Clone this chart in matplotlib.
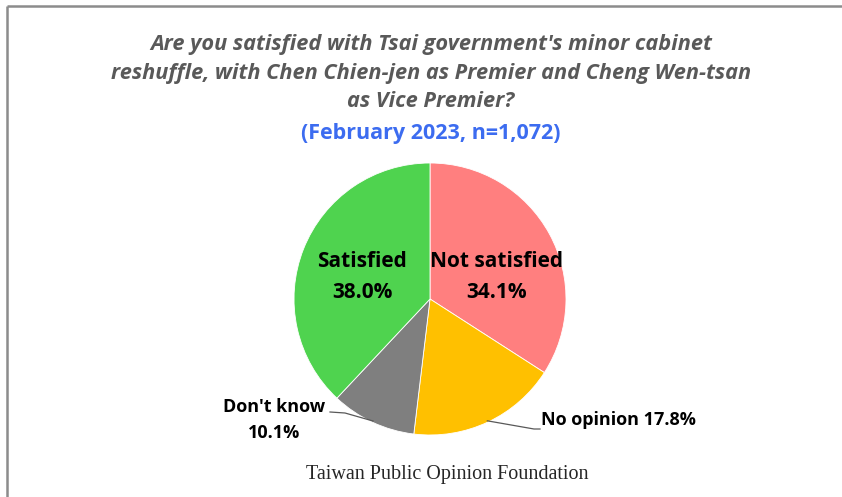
import numpy as np
import matplotlib
matplotlib.use("Agg")
import matplotlib.pyplot as plt

# Survey answers, clockwise from 12 o'clock
labels = ["Not satisfied", "No opinion", "Don't know", "Satisfied"]
shares = [34.1, 17.8, 10.1, 38.0]
colors = ["#FF7F7F", "#FFC000", "#7F7F7F", "#4FD34F"]

title = ("Are you satisfied with Tsai government's minor cabinet\n"
         "reshuffle, with Chen Chien-jen as Premier and Cheng Wen-tsan\n"
         "as Vice Premier?")
subtitle = "(February 2023, n=1,072)"
source = "Taiwan Public Opinion Foundation"

W, H = 842, 497
SANS = ["Open Sans", "DejaVu Sans"]

fig = plt.figure(figsize=(W / 100, H / 100), dpi=100)
fig.patch.set_facecolor("white")
ax = fig.add_axes([0, 0, 1, 1])

cx, cy, r = 430, H - 299, 136
wedges, _ = ax.pie(shares, colors=colors, startangle=90, counterclock=False,
                   center=(cx, cy), radius=r,
                   wedgeprops=dict(edgecolor="white", linewidth=0.6))
ax.set_xlim(0, W)
ax.set_ylim(0, H)
ax.set_aspect("auto")
ax.axis("off")

# frame lines (top and left only, like the cropped screenshot)
ax.plot([7, W], [H - 6, H - 6], color="#8C8C8C", lw=1.8, solid_capstyle="butt")
ax.plot([7, 7], [0, H - 6], color="#8C8C8C", lw=1.8, solid_capstyle="butt")

ax.text(W / 2 + 10, H - 73, title, ha="center", va="center", fontsize=15.7,
        fontweight="bold", fontstyle="italic", color="#595959",
        family=SANS, linespacing=1.45)
ax.text(W / 2 + 10, H - 133, subtitle, ha="center", va="center",
        fontsize=15.5, fontweight="bold", color="#3C6CF0", family=SANS)

lab = dict(fontsize=15, fontweight="bold", color="black", family=SANS,
           linespacing=1.6)
ax.text(362, H - 277, f"{labels[3]}\n{shares[3]:.1f}%", ha="center",
        va="center", **lab)
ax.text(497, H - 277, f"{labels[0]}\n{shares[0]:.1f}%", ha="center",
        va="center", **lab)

small = dict(fontsize=13, fontweight="bold", color="black", family=SANS,
             linespacing=1.55)


def edge_point(w, frac=1.0):
    mid = np.deg2rad((w.theta1 + w.theta2) / 2)
    return cx + frac * r * np.cos(mid), cy + frac * r * np.sin(mid)


# No opinion leader
x0, y0 = edge_point(wedges[1], 0.99)
ax.plot([x0, 534, 540], [y0, H - 429, H - 429], color="#595959", lw=0.9)
ax.text(541, H - 420, f"{labels[1]} {shares[1]:.1f}%", ha="left",
        va="center", **small)

# Don't know leader
x1, y1 = edge_point(wedges[2], 0.99)
ax.plot([x1, 345, 330], [y1, H - 413, H - 412], color="#595959", lw=0.9)
ax.text(274, H - 420, f"{labels[2]}\n{shares[2]:.1f}%", ha="center",
        va="center", **small)

ax.text(W / 2 + 26, H - 475, source, ha="center", va="center", fontsize=14.5,
        color="#262626", family=["Liberation Serif", "DejaVu Serif"])

fig.savefig("out.png", dpi=100, facecolor="white")
